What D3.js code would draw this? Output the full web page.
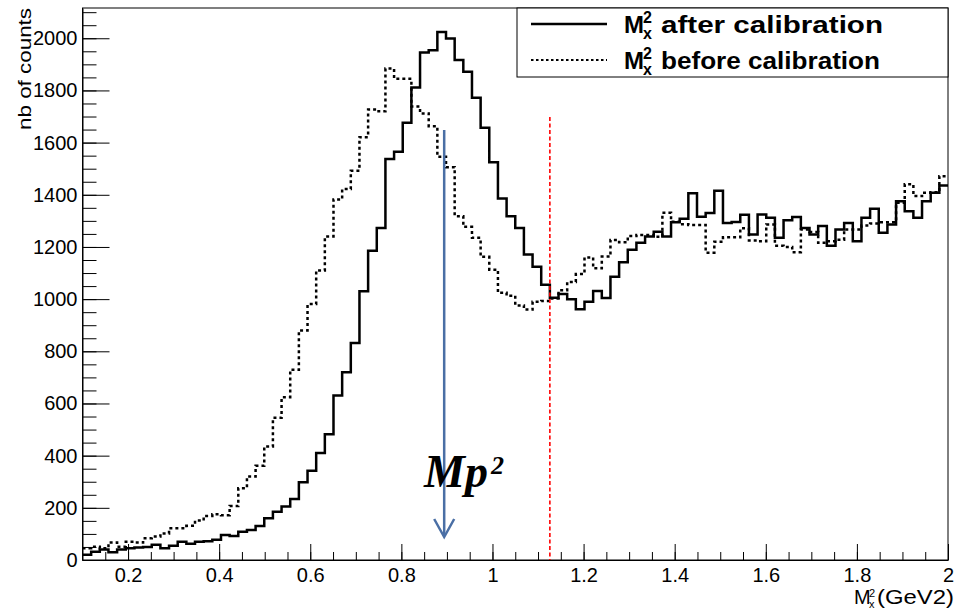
<!DOCTYPE html>
<html>
<head>
<meta charset="utf-8">
<script src="https://cdn.jsdelivr.net/npm/d3@7"></script>
<style>
  body { margin: 0; background: #fff; }
  svg { display: block; font-family: "Liberation Sans", Arial, sans-serif; }
</style>
</head>
<body>
<div id="chart"></div>
<script>
// histogram contents, 100 bins between xLow and xHigh
var xLow = 0.1;
var xHigh = 2;
var afterCal = [
  20, 32, 40, 30, 40, 45, 48, 50, 58, 45,
  55, 70, 62, 70, 72, 78, 96, 92, 108, 115,
  130, 160, 185, 205, 234, 298, 342, 410, 482, 631,
  720, 832, 1030, 1185, 1273, 1537, 1565, 1676, 1811, 1945,
  1954, 2024, 1999, 1917, 1872, 1772, 1657, 1525, 1386, 1318,
  1273, 1171, 1124, 1055, 1005, 1020, 1000, 961, 990, 1031,
  1004, 1086, 1141, 1189, 1216, 1240, 1258, 1240, 1295, 1308,
  1406, 1316, 1330, 1415, 1292, 1296, 1323, 1248, 1324, 1312,
  1235, 1302, 1315, 1273, 1248, 1280, 1205, 1267, 1292, 1222,
  1312, 1346, 1254, 1286, 1375, 1337, 1312, 1375, 1408, 1436
];
var beforeCal = [
  45, 51, 45, 67, 51, 70, 67, 83, 90, 102,
  122, 122, 131, 151, 169, 175, 172, 207, 275, 320,
  361, 435, 545, 624, 729, 880, 981, 1110, 1240, 1382,
  1422, 1492, 1621, 1727, 1720, 1884, 1845, 1845, 1738, 1712,
  1663, 1546, 1506, 1318, 1277, 1235, 1162, 1113, 1024, 1013,
  976, 960, 990, 993, 1002, 1034, 1066, 1096, 1160, 1118,
  1163, 1227, 1218, 1242, 1246, 1246, 1239, 1331, 1297, 1287,
  1284, 1284, 1178, 1220, 1237, 1237, 1272, 1225, 1222, 1286,
  1205, 1200, 1180, 1267, 1257, 1216, 1222, 1228, 1267, 1267,
  1282, 1290, 1295, 1295, 1369, 1440, 1395, 1408, 1410, 1471
];
var xTicks = [0.2, 0.4, 0.6, 0.8, 1, 1.2, 1.4, 1.6, 1.8, 2];
var yTicks = [0, 200, 400, 600, 800, 1000, 1200, 1400, 1600, 1800, 2000];
var yMax = 2116;
var mpSquared = 0.894;   // arrow position
var cutValue = 1.126;    // red dashed cut
var legendLabels = ["after calibration", "before calibration"];

var W = 958, H = 610;
var plot = { left: 82.5, right: 948, top: 8, bottom: 560 };

var svg = d3.select("#chart").append("svg")
  .attr("width", W)
  .attr("height", H);

var x = d3.scaleLinear().domain([xLow, xHigh]).range([plot.left, plot.right]);
var y = d3.scaleLinear().domain([0, yMax]).range([plot.bottom, plot.top]);

// frame
svg.append("rect")
  .attr("x", plot.left)
  .attr("y", plot.top)
  .attr("width", plot.right - plot.left)
  .attr("height", plot.bottom - plot.top)
  .attr("fill", "none")
  .attr("stroke", "#000")
  .attr("stroke-width", 1);

// y axis: major + minor ticks drawn inside the frame
var yMinor = d3.range(0, yMax, 50);
svg.append("g")
  .attr("transform", `translate(${plot.left},0)`)
  .call(d3.axisLeft(y).tickValues(yMinor).tickSize(-14).tickSizeOuter(0).tickFormat(""))
  .call(g => g.select(".domain").remove());
var yAxis = svg.append("g")
  .attr("transform", `translate(${plot.left},0)`)
  .call(d3.axisLeft(y).tickValues(yTicks).tickSize(-27).tickSizeOuter(0).tickPadding(5)
    .tickFormat(d3.format("d")));
yAxis.selectAll("text")
  .attr("font-size", 20)
  .attr("font-family", "Liberation Sans, Arial, sans-serif")
  .attr("fill", "#000");

// x axis
var xMinor = d3.range(3, 41).map(d => d * 0.05);
svg.append("g")
  .attr("transform", `translate(0,${plot.bottom})`)
  .call(d3.axisBottom(x).tickValues(xMinor).tickSize(-8).tickSizeOuter(0).tickFormat(""))
  .call(g => g.select(".domain").remove());
var xAxis = svg.append("g")
  .attr("transform", `translate(0,${plot.bottom})`)
  .call(d3.axisBottom(x).tickValues(xTicks).tickSize(-16).tickSizeOuter(0).tickPadding(8)
    .tickFormat(d3.format("~g")));
xAxis.selectAll("text")
  .attr("font-size", 20)
  .attr("font-family", "Liberation Sans, Arial, sans-serif")
  .attr("fill", "#000");
svg.selectAll(".tick line").attr("stroke", "#000");

// histograms as step lines
var binW = (xHigh - xLow) / afterCal.length;
function stepPoints(values) {
  var pts = values.map((v, i) => [xLow + i * binW, v]);
  pts.push([xHigh, values[values.length - 1]]);
  return pts;
}
var stepLine = d3.line()
  .x(d => x(d[0]))
  .y(d => y(d[1]))
  .curve(d3.curveStepAfter);

svg.append("path")
  .attr("d", stepLine(stepPoints(beforeCal)))
  .attr("fill", "none")
  .attr("stroke", "#000")
  .attr("stroke-width", 2.5)
  .attr("stroke-dasharray", "3,3");

svg.append("path")
  .attr("d", stepLine(stepPoints(afterCal)))
  .attr("fill", "none")
  .attr("stroke", "#000")
  .attr("stroke-width", 2.5);

// red cut line
svg.append("line")
  .attr("x1", x(cutValue)).attr("x2", x(cutValue))
  .attr("y1", 117).attr("y2", plot.bottom)
  .attr("stroke", "#f00")
  .attr("stroke-width", 1.6)
  .attr("stroke-dasharray", "4,2.5");

// blue arrow for Mp^2
var ax = x(mpSquared);
var arrow = svg.append("g")
  .attr("stroke", "#4a6fa5")
  .attr("stroke-width", 2.5)
  .attr("fill", "none");
arrow.append("line")
  .attr("x1", ax).attr("x2", ax)
  .attr("y1", 130).attr("y2", 536);
arrow.append("polyline")
  .attr("points", `${ax - 10},519 ${ax},537 ${ax + 10},519`);

var mp = svg.append("text")
  .attr("x", 424)
  .attr("y", 487)
  .attr("font-family", "Liberation Serif, Times New Roman, serif")
  .attr("font-style", "italic")
  .attr("font-weight", "bold")
  .attr("font-size", 46)
  .attr("fill", "#000");
mp.append("tspan").text("Mp");
mp.append("tspan").attr("font-size", 26).attr("dy", -13).attr("dx", 3).text("2");

// y title
svg.append("text")
  .attr("transform", "translate(31,8) rotate(-90)")
  .attr("text-anchor", "end")
  .attr("font-size", 19)
  .attr("textLength", 122)
  .attr("lengthAdjust", "spacingAndGlyphs")
  .attr("fill", "#000")
  .text("nb of counts");

// x title
var xt = svg.append("g").attr("fill", "#000");
xt.append("text").attr("x", 854).attr("y", 604).attr("font-size", 20).text("M");
xt.append("text").attr("x", 869).attr("y", 597).attr("font-size", 11).text("2");
xt.append("text").attr("x", 869).attr("y", 608).attr("font-size", 11).text("x");
xt.append("text").attr("x", 877).attr("y", 604).attr("font-size", 20)
  .attr("textLength", 77).attr("lengthAdjust", "spacingAndGlyphs").text("(GeV2)");

// legend
var legend = svg.append("g");
legend.append("rect")
  .attr("x", 517).attr("y", plot.top)
  .attr("width", plot.right - 517).attr("height", 77 - plot.top)
  .attr("fill", "#fff")
  .attr("stroke", "#000")
  .attr("stroke-width", 1);

var rows = legendLabels.map((label, i) => ({ label: label, cy: 24 + i * 36, dashed: i === 1 }));
rows.forEach(r => {
  legend.append("line")
    .attr("x1", 531).attr("x2", 607)
    .attr("y1", r.cy).attr("y2", r.cy)
    .attr("stroke", "#000")
    .attr("stroke-width", r.dashed ? 2 : 2.5)
    .attr("stroke-dasharray", r.dashed ? "2.5,2.5" : null);
  var t = legend.append("g").attr("fill", "#000").attr("font-weight", "bold");
  t.append("text").attr("x", 624).attr("y", r.cy + 9).attr("font-size", 24).text("M");
  t.append("text").attr("x", 643).attr("y", r.cy - 1).attr("font-size", 16).text("2");
  t.append("text").attr("x", 643).attr("y", r.cy + 15).attr("font-size", 16).text("x");
  t.append("text").attr("x", 661).attr("y", r.cy + 9).attr("font-size", 24)
    .attr("textLength", r.dashed ? 219 : 222)
    .attr("lengthAdjust", "spacingAndGlyphs")
    .text(r.label);
});
</script>
</body>
</html>
